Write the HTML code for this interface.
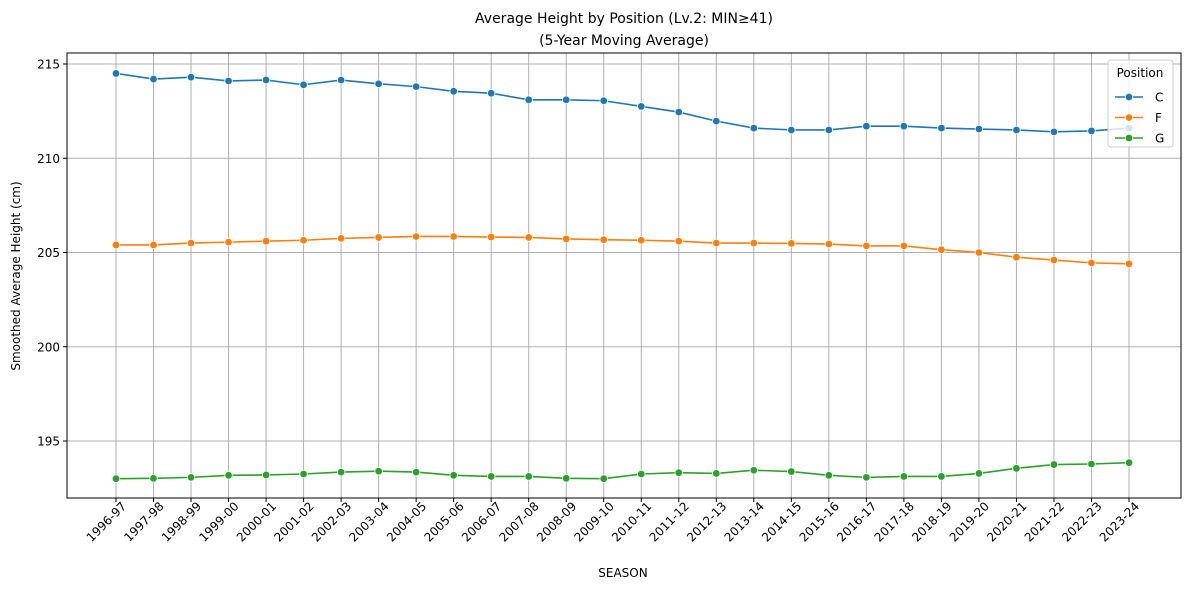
<!DOCTYPE html>
<html><head><meta charset="utf-8"><style>
body{margin:0;background:#fff;font-family:"Liberation Sans","DejaVu Sans",sans-serif}
svg text{font-family:"DejaVu Sans","Liberation Sans",sans-serif}
</style></head><body>
<svg id="chart" width="1189" height="590"></svg>
<script>
const seasons=["1996-97","1997-98","1998-99","1999-00","2000-01","2001-02","2002-03","2003-04","2004-05","2005-06","2006-07","2007-08","2008-09","2009-10","2010-11","2011-12","2012-13","2013-14","2014-15","2015-16","2016-17","2017-18","2018-19","2019-20","2020-21","2021-22","2022-23","2023-24"];
const seriesC=[214.5,214.2,214.3,214.1,214.15,213.9,214.15,213.95,213.8,213.55,213.45,213.1,213.1,213.05,212.75,212.45,211.97,211.6,211.5,211.5,211.7,211.7,211.6,211.55,211.5,211.4,211.45,211.6];
const seriesF=[205.4,205.4,205.5,205.55,205.6,205.65,205.75,205.8,205.85,205.85,205.82,205.8,205.72,205.68,205.65,205.6,205.5,205.5,205.48,205.45,205.35,205.35,205.15,205.0,204.75,204.6,204.45,204.4];
const seriesG=[193.0,193.02,193.07,193.18,193.2,193.25,193.35,193.4,193.35,193.18,193.12,193.12,193.02,193.0,193.25,193.32,193.28,193.45,193.38,193.18,193.07,193.12,193.12,193.28,193.55,193.75,193.78,193.85];
const yTicks=[195,200,205,210,215];
const names=["C","F","G"];
const colors=["#1f77b4","#ff7f0e","#2ca02c"];
const L=67,R=1181,T=53,B=498;
const x=i=>116+i*(1129-116)/27;
const y=v=>64+(215-v)*(441-64)/20;
const svg=document.getElementById('chart');
const NS='http://www.w3.org/2000/svg';
function mk(tag,attrs,parent){const e=document.createElementNS(NS,tag);for(const k in attrs)e.setAttribute(k,attrs[k]);(parent||svg).appendChild(e);return e;}
function txt(s,attrs){const e=mk('text',attrs);e.textContent=s;return e;}
seasons.forEach((s,i)=>{const g=mk('line',{x1:x(i),x2:x(i),y1:T,y2:B,stroke:'#b0b0b0','stroke-width':1});


mk('line',{x1:x(i),x2:x(i),y1:B,y2:B+4,stroke:'#000'});
const t=txt(s,{x:0,y:0,'font-size':12,'text-anchor':'end',transform:`translate(${x(i)+11},${B+9}) rotate(-45)`});

});
yTicks.forEach(v=>{const g=mk('line',{x1:L,x2:R,y1:y(v),y2:y(v),stroke:'#b0b0b0','stroke-width':1});


mk('line',{x1:L-4,x2:L,y1:y(v),y2:y(v),stroke:'#000'});
const t=txt(String(v),{x:L-7,y:y(v)+4.5,'font-size':12,'text-anchor':'end'});

});
[seriesC,seriesF,seriesG].forEach((d,k)=>{
const p=mk('polyline',{points:d.map((v,i)=>x(i)+','+y(v)).join(' '),fill:'none',stroke:colors[k],'stroke-width':1.6});


d.forEach((v,i)=>{const c=mk('circle',{cx:x(i),cy:y(v),r:3.8,fill:colors[k],stroke:'#fff','stroke-width':0.8});

});});
const fr=mk('rect',{x:L,y:T,width:R-L,height:B-T,fill:'none',stroke:'#000','stroke-width':1});


const lg=mk('g',{});


mk('rect',{x:1108,y:60,width:65,height:87,rx:3,fill:'#fff','fill-opacity':0.8,stroke:'#ccc'},lg);
const lt=mk('text',{x:1140,y:77,'font-size':12,'text-anchor':'middle'},lg);lt.textContent='Position';
names.forEach((n,k)=>{const yy=97+k*20.5;
const le=mk('g',{},lg);


mk('line',{x1:1115,x2:1143,y1:yy,y2:yy,stroke:colors[k],'stroke-width':1.6},le);
mk('circle',{cx:1129,cy:yy,r:3.8,fill:colors[k],stroke:'#fff','stroke-width':0.8},le);
const t=mk('text',{x:1155,y:yy+4.5,'font-size':12},le);t.textContent=n;});
const t1=txt('Average Height by Position (Lv.2: MIN≥41)',{x:624,y:23,'font-size':14,'text-anchor':'middle'});


const t2=txt('(5-Year Moving Average)',{x:624,y:45,'font-size':14,'text-anchor':'middle'});


const xt=txt('SEASON',{x:623,y:577,'font-size':12,'text-anchor':'middle'});


const yt=txt('Smoothed Average Height (cm)',{x:0,y:0,'font-size':12,'text-anchor':'middle',transform:'translate(20,276) rotate(-90)'});


</script>
</body></html>
